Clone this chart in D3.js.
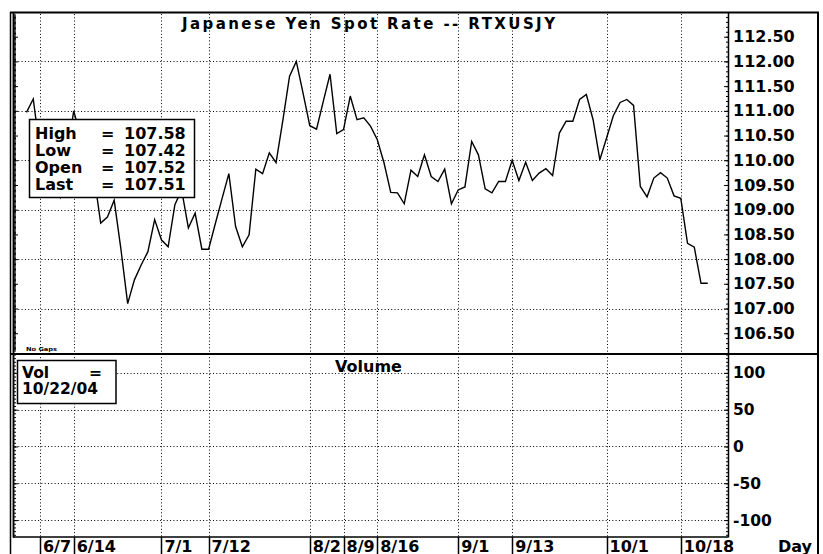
<!DOCTYPE html>
<html><head><meta charset="utf-8">
<script src="https://cdn.jsdelivr.net/npm/d3@7"></script>
<style>
html,body{margin:0;padding:0;background:#fff;}
svg{display:block;}
text{font-family:"DejaVu Sans",sans-serif;font-weight:bold;fill:#000;}
</style></head><body>
<svg id="c" width="823" height="554"></svg>
<script>
// Daily JPY spot rate, trading days from 6/3/2004 to 10/22/2004
const rate = [
 110.97,111.24,110.2,109.8,109.5,109.25,110.1,111.0,110.5,110.1,
 109.7,108.73,108.85,109.19,108.2,107.1,107.58,107.88,108.15,108.8,
 108.39,108.25,109.1,109.4,108.63,108.93,108.2,108.2,108.72,109.23,
 109.73,108.66,108.25,108.49,109.82,109.73,110.15,109.95,110.8,111.7,
 112.0,111.36,110.7,110.63,111.19,111.74,110.54,110.62,111.3,110.82,
 110.86,110.69,110.42,109.95,109.35,109.34,109.12,109.8,109.67,110.11,
 109.67,109.57,109.82,109.12,109.4,109.46,110.38,110.11,109.42,109.34,
 109.57,109.57,110.0,109.59,109.96,109.59,109.74,109.83,109.69,110.55,
 110.79,110.79,111.23,111.33,110.82,110.01,110.45,110.9,111.17,111.23,
 111.11,109.47,109.26,109.64,109.75,109.64,109.28,109.23,108.32,108.24,
 107.51,107.51
];
const tickLabels = ["6/7","6/14","7/1","7/12","8/2","8/9","8/16","9/1","9/13","10/1","10/18"];
const tickDays   = [2,7,20,27,42,47,52,64,72,86,97]; // trading-day index of each label
const priceLabels = [112.5,112,111.5,111,110.5,110,109.5,109,108.5,108,107.5,107,106.5];
const priceGrid = [112,111,110,109,108,107];
const volLabels = [100,50,0,-50,-100];
const legendNames = ["High","Low","Open","Last"];
const legendValues = ["107.58","107.42","107.52","107.51"];
const titleText = "Japanese Yen Spot Rate -- RTXUSJY";
const volTitle = "Volume";
const volDate = "10/22/04";

const svg = d3.select("#c");
const L = 13, R = 728, PT = 12, PB = 353, VB = 537;
const x = d3.scaleLinear().domain([-2, 104]).range([L, R]);
const yP = d3.scaleLinear().domain([106.1, 113.0]).range([PB, PT]);
const yV = d3.scaleLinear().domain([-123, 127]).range([VB, PB]);
const px = v => Math.round(v) + 0.5;

// grid
const grid = svg.append("g").attr("stroke", "#000").attr("stroke-width", 1).attr("stroke-dasharray", "1,2.3");
grid.selectAll("line.v").data(tickDays).join("line").attr("class","v")
  .attr("x1", d => px(x(d))).attr("x2", d => px(x(d))).attr("y1", PT + 2).attr("y2", VB);
grid.selectAll("line.hp").data(priceGrid).join("line").attr("class","hp")
  .attr("x1", L + 2).attr("x2", R).attr("y1", d => px(yP(d))).attr("y2", d => px(yP(d)));
grid.selectAll("line.hv").data(volLabels).join("line").attr("class","hv")
  .attr("x1", L + 2).attr("x2", R).attr("y1", d => px(yV(d))).attr("y2", d => px(yV(d)));

// price line
svg.append("path").datum(rate)
  .attr("fill", "none").attr("stroke", "#000").attr("stroke-width", 1.4).attr("stroke-linejoin", "miter")
  .attr("d", d3.line().x((d, i) => x(i)).y(d => yP(d)));

// right axes
function styleAxis(g, fs) {
  g.selectAll("path").attr("stroke", "#000").attr("stroke-width", 1.5);
  g.selectAll("line").attr("stroke", "#000").attr("stroke-width", 1);
  g.selectAll("text").attr("font-family", "DejaVu Sans").attr("font-weight", "bold").attr("font-size", fs).attr("fill", "#000");
}
const minorP = d3.range(1062, 1130, 1).map(d => d / 10);
const gR1 = svg.append("g").attr("transform", `translate(${R},0)`)
  .call(d3.axisRight(yP).tickValues(minorP).tickSizeInner(-2).tickSizeOuter(0).tickFormat(""));
styleAxis(gR1, 16);
const gR2 = svg.append("g").attr("transform", `translate(${R},0)`)
  .call(d3.axisRight(yP).tickValues(priceLabels).tickSizeInner(-4).tickSizeOuter(0).tickPadding(5).tickFormat(d3.format(".2f")));
styleAxis(gR2, 16);
gR2.select("path").remove();
const minorV = d3.range(-120, 126, 5);
const gR3 = svg.append("g").attr("transform", `translate(${R},0)`)
  .call(d3.axisRight(yV).tickValues(minorV).tickSizeInner(-2).tickSizeOuter(0).tickFormat(""));
styleAxis(gR3, 16);
const gR4 = svg.append("g").attr("transform", `translate(${R},0)`)
  .call(d3.axisRight(yV).tickValues(volLabels).tickSizeInner(-4).tickSizeOuter(0).tickPadding(5).tickFormat(d => d));
styleAxis(gR4, 15.5);
gR4.select("path").remove();

// left axes
const minorPL = d3.range(4245, 4520, 1).map(d => d / 40).filter(d => d >= 106.15 && d <= 112.95);
const gL1 = svg.append("g").attr("transform", `translate(${L},0)`)
  .call(d3.axisRight(yP).tickValues(minorPL).tickSizeInner(3).tickSizeOuter(0).tickFormat(""));
styleAxis(gL1, 10);
const gL2 = svg.append("g").attr("transform", `translate(${L},0)`)
  .call(d3.axisRight(yP).tickValues(priceLabels).tickSizeInner(5).tickSizeOuter(0).tickFormat(""));
styleAxis(gL2, 10);
const gL3 = svg.append("g").attr("transform", `translate(${L},0)`)
  .call(d3.axisRight(yV).tickValues(minorV).tickSizeInner(3).tickSizeOuter(0).tickFormat(""));
styleAxis(gL3, 10);
const gL4 = svg.append("g").attr("transform", `translate(${L},0)`)
  .call(d3.axisRight(yV).tickValues(volLabels).tickSizeInner(5).tickSizeOuter(0).tickFormat(""));
styleAxis(gL4, 10);

// frame
const frame = svg.append("g").attr("stroke", "#000");
frame.append("line").attr("x1", 10).attr("x2", 819).attr("y1", 12.5).attr("y2", 12.5).attr("stroke-width", 2);
frame.append("line").attr("x1", 10.5).attr("x2", 10.5).attr("y1", 12).attr("y2", 554).attr("stroke-width", 1.5);
frame.append("line").attr("x1", 818).attr("x2", 818).attr("y1", 12).attr("y2", 554).attr("stroke-width", 2);
frame.append("line").attr("x1", 10).attr("x2", 819).attr("y1", 354).attr("y2", 354).attr("stroke-width", 2);
frame.append("line").attr("x1", L).attr("x2", R).attr("y1", VB).attr("y2", VB).attr("stroke-width", 1.5);

// bottom date labels
const bt = svg.append("g");
bt.selectAll("line").data(tickDays).join("line")
  .attr("x1", d => px(x(d))).attr("x2", d => px(x(d))).attr("y1", VB).attr("y2", 554)
  .attr("stroke", "#000").attr("stroke-width", 1.5);
bt.selectAll("text").data(tickLabels).join("text")
  .attr("x", (d, i) => x(tickDays[i]) + 3).attr("y", 551.5).attr("font-size", 16).text(d => d);
svg.append("text").attr("x", 778).attr("y", 551.5).attr("font-size", 16).text("Day");

// titles
svg.append("text").attr("x", 182).attr("y", 29).attr("font-size", 15)
  .attr("textLength", 373).attr("lengthAdjust", "spacing").text(titleText);
svg.append("text").attr("x", 335).attr("y", 372).attr("font-size", 16).text(volTitle);
svg.append("text").attr("x", 26).attr("y", 351).attr("font-size", 5.5)
  .attr("textLength", 31).attr("lengthAdjust", "spacingAndGlyphs").text("No Gaps");

// legend box
svg.append("rect").attr("x", 29.5).attr("y", 119.5).attr("width", 165).attr("height", 78)
  .attr("fill", "#fff").attr("stroke", "#000").attr("stroke-width", 1.5);
const lg = svg.append("g").attr("font-size", 16);
legendNames.forEach((n, i) => {
  const yy = 138.5 + i * 17.2;
  lg.append("text").attr("x", 35).attr("y", yy).attr("font-size", 16).text(n);
  lg.append("text").attr("x", 101).attr("y", yy).attr("font-size", 16).text("=");
  lg.append("text").attr("x", 124).attr("y", yy).attr("font-size", 16).text(legendValues[i]);
});

// volume box
svg.append("rect").attr("x", 17.5).attr("y", 360.5).attr("width", 98.5).attr("height", 43)
  .attr("fill", "#fff").attr("stroke", "#000").attr("stroke-width", 1.5);
svg.append("text").attr("x", 22).attr("y", 377.5).attr("font-size", 15.5).text("Vol");
svg.append("text").attr("x", 89).attr("y", 377.5).attr("font-size", 15.5).text("=");
svg.append("text").attr("x", 22).attr("y", 394).attr("font-size", 15.5).text(volDate);
</script>
</body></html>
